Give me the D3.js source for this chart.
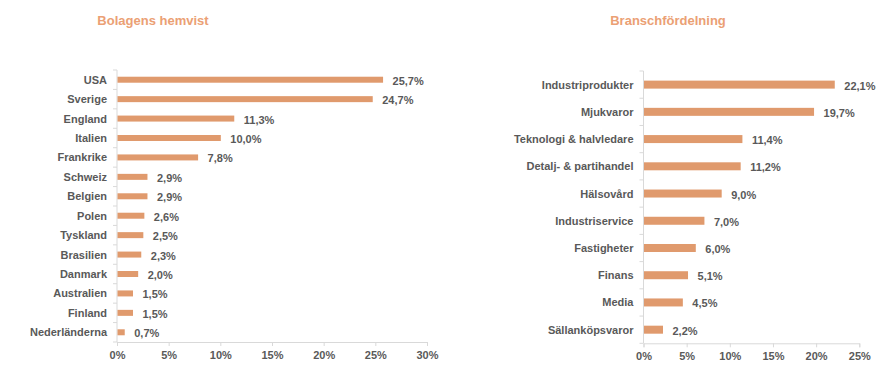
<!DOCTYPE html>
<html>
<head>
<meta charset="utf-8">
<script src="https://cdn.jsdelivr.net/npm/d3@7"></script>
<style>
  html, body { margin: 0; padding: 0; background: #fff; }
  svg { display: block; }
  text { font-family: "Liberation Sans", Arial, sans-serif; }
</style>
</head>
<body>
<svg id="chart" width="890" height="383"></svg>
<script>
// Left chart data
const countries = ["USA","Sverige","England","Italien","Frankrike","Schweiz","Belgien","Polen","Tyskland","Brasilien","Danmark","Australien","Finland","Nederländerna"];
const countryValues = [25.7,24.7,11.3,10.0,7.8,2.9,2.9,2.6,2.5,2.3,2.0,1.5,1.5,0.7];
const countryTicks = [0,5,10,15,20,25,30];

// Right chart data
const sectors = ["Industriprodukter","Mjukvaror","Teknologi & halvledare","Detalj- & partihandel","Hälsovård","Industriservice","Fastigheter","Finans","Media","Sällanköpsvaror"];
const sectorValues = [22.1,19.7,11.4,11.2,9.0,7.0,6.0,5.1,4.5,2.2];
const sectorTicks = [0,5,10,15,20,25];

const titles = ["Bolagens hemvist","Branschfördelning"];

const barColor = "#E09A6D";
const titleColor = "#EBA074";
const textColor = "#595959";
const axisColor = "#D9D9D9";

const svg = d3.select("#chart");
const fmt = v => d3.format(".1f")(v).replace(".", ",") + "%";

function drawPanel(cfg) {
  const { cats, vals, ticks, x0, x1, y0, y1, barH, title, titleX } = cfg;
  const g = svg.append("g");
  const x = d3.scaleLinear().domain([ticks[0], ticks[ticks.length-1]]).range([x0, x1]);
  const y = d3.scaleBand().domain(cats).range([y0, y1]).padding(0);

  // title
  g.append("text").attr("x", titleX).attr("y", 20)
    .attr("text-anchor", "middle").attr("dominant-baseline", "central")
    .attr("font-size", 13).attr("font-weight", "bold").attr("fill", titleColor)
    .text(title);

  // x axis
  const xAxis = d3.axisBottom(x).tickValues(ticks).tickSize(4).tickPadding(5)
    .tickFormat(d => d + "%");
  const xg = g.append("g").attr("transform", `translate(0,${y1})`).call(xAxis);
  xg.select(".domain").attr("stroke", axisColor);
  xg.selectAll(".tick line").attr("stroke", axisColor);
  xg.selectAll(".tick text").attr("fill", textColor).attr("font-size", 11)
    .attr("font-weight", "bold").attr("font-family", "Liberation Sans, Arial, sans-serif");

  // y axis line and boundary ticks
  g.append("line").attr("x1", x0).attr("x2", x0).attr("y1", y0).attr("y2", y1)
    .attr("stroke", axisColor);
  const bounds = cats.map(c => y(c)).concat([y1]);
  g.selectAll(".ytick").data(bounds).enter().append("line")
    .attr("x1", x0 - 4).attr("x2", x0).attr("y1", d => d).attr("y2", d => d)
    .attr("stroke", axisColor);

  // bars
  g.selectAll(".bar").data(cats).enter().append("rect")
    .attr("x", x0 + 0.5)
    .attr("y", (c) => y(c) + y.bandwidth()/2 - barH/2)
    .attr("width", (c, i) => x(vals[i]) - x(0))
    .attr("height", barH)
    .attr("fill", barColor);

  // category labels
  g.selectAll(".cat").data(cats).enter().append("text")
    .attr("x", x0 - 10)
    .attr("y", c => y(c) + y.bandwidth()/2)
    .attr("text-anchor", "end").attr("dominant-baseline", "central")
    .attr("font-size", 11).attr("font-weight", "bold").attr("fill", textColor)
    .text(c => c);

  // value labels
  g.selectAll(".val").data(cats).enter().append("text")
    .attr("x", (c, i) => x(vals[i]) + 10)
    .attr("y", c => y(c) + y.bandwidth()/2 + 1)
    .attr("dominant-baseline", "central")
    .attr("font-size", 11).attr("font-weight", "bold").attr("fill", textColor)
    .text((c, i) => fmt(vals[i]));
}

drawPanel({ cats: countries, vals: countryValues, ticks: countryTicks,
  x0: 117, x1: 427, y0: 70, y1: 342, barH: 6, title: titles[0], titleX: 153 });
drawPanel({ cats: sectors, vals: sectorValues, ticks: sectorTicks,
  x0: 643.5, x1: 859.3, y0: 71, y1: 343.3, barH: 8, title: titles[1], titleX: 668 });
</script>
</body>
</html>
